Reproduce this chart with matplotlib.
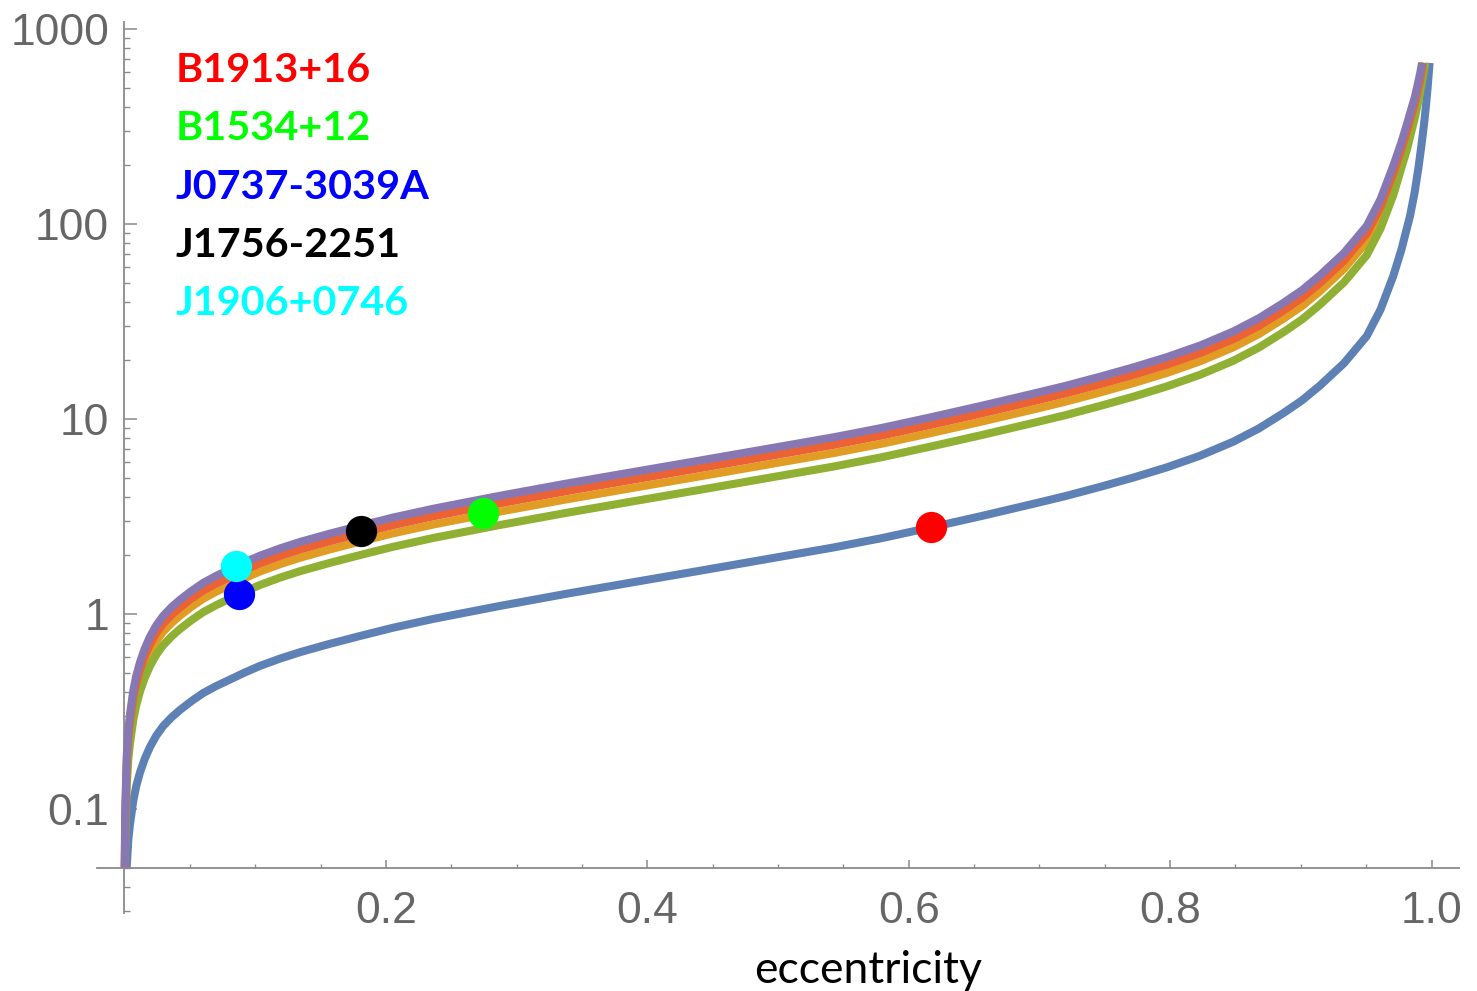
import matplotlib
matplotlib.use("Agg")
import matplotlib.pyplot as plt
from matplotlib.ticker import FixedLocator, FixedFormatter, LogLocator, NullFormatter

# ---------------- data ----------------
e_blue = [0.0017, 0.0030, 0.0042, 0.0067, 0.0090, 0.0119, 0.0155, 0.0195, 0.0245, 0.0297,
          0.036, 0.0425, 0.051, 0.0603, 0.070, 0.0807, 0.092, 0.1037, 0.119, 0.1343,
          0.157, 0.18, 0.205, 0.2363, 0.26, 0.2869, 0.3383, 0.39, 0.4403, 0.49,
          0.5423, 0.58, 0.617, 0.656, 0.6953, 0.72, 0.7464, 0.772, 0.7974, 0.823,
          0.8484, 0.868, 0.8866, 0.901, 0.9147, 0.933, 0.9504, 0.961, 0.9708, 0.977,
          0.9835, 0.987, 0.99, 0.9922, 0.9942, 0.9957, 0.997, 0.9985]
v_blue = [0.050, 0.0700, 0.0832, 0.1096, 0.1309, 0.1542, 0.1807, 0.2080, 0.2388, 0.2667,
          0.2951, 0.3221, 0.3565, 0.3936, 0.4266, 0.4613, 0.5012, 0.5420, 0.5908, 0.6372,
          0.7031, 0.7709, 0.8492, 0.9441, 1.0139, 1.0990, 1.2706, 1.4588, 1.6672, 1.9055,
          2.1928, 2.4547, 2.7797, 3.1842, 3.6728, 4.0272, 4.4875, 5.0119, 5.6494, 6.4863,
          7.656, 8.954, 10.715, 12.474, 14.859, 19.32, 26.61, 36.48, 54.33, 74.13,
          109.7, 144.5, 195.0, 251.2, 323.6, 402.7, 501.2, 670]

e_green = [0.00035, 0.0006, 0.0017, 0.0030, 0.0042, 0.0067, 0.0090, 0.0119, 0.0155, 0.0195,
           0.0245, 0.0297, 0.036, 0.0425, 0.051, 0.0603, 0.070, 0.0807, 0.092, 0.1037,
           0.119, 0.1343, 0.157, 0.18, 0.205, 0.2363, 0.26, 0.2869, 0.3383, 0.39,
           0.4403, 0.49, 0.5423, 0.58, 0.617, 0.656, 0.6953, 0.72, 0.7464, 0.772,
           0.7974, 0.823, 0.8484, 0.868, 0.8866, 0.901, 0.9147, 0.933, 0.9504, 0.961,
           0.9708, 0.977, 0.9811, 0.9874, 0.9912, 0.9952]
v_green = [0.050, 0.0696, 0.130, 0.182, 0.216, 0.285, 0.340, 0.401, 0.470, 0.541,
           0.621, 0.693, 0.767, 0.838, 0.927, 1.023, 1.109, 1.199, 1.303, 1.409,
           1.537, 1.658, 1.828, 2.004, 2.208, 2.455, 2.636, 2.858, 3.304, 3.793,
           4.335, 4.955, 5.702, 6.383, 7.228, 8.279, 9.550, 10.47, 11.67, 13.03,
           14.69, 16.87, 19.91, 23.28, 27.86, 32.43, 38.64, 50.23, 69.18, 94.84,
           141.3, 195, 240, 355, 470, 670]

e_orange = [0.00026, 0.0006, 0.0017, 0.0030, 0.0042, 0.0067, 0.0090, 0.0119, 0.0155, 0.0195,
            0.0245, 0.0297, 0.036, 0.0425, 0.051, 0.0603, 0.070, 0.0807, 0.092, 0.1037,
            0.119, 0.1343, 0.157, 0.18, 0.205, 0.2363, 0.26, 0.2869, 0.3383, 0.39,
            0.4403, 0.49, 0.5423, 0.58, 0.617, 0.656, 0.6953, 0.72, 0.7464, 0.772,
            0.7974, 0.823, 0.8484, 0.868, 0.8866, 0.901, 0.9147, 0.933, 0.9504, 0.961,
            0.9708, 0.977, 0.9811, 0.9874, 0.9912, 0.9943]
v_orange = [0.050, 0.0813, 0.152, 0.213, 0.254, 0.334, 0.399, 0.470, 0.551, 0.634,
            0.728, 0.813, 0.899, 0.982, 1.086, 1.199, 1.300, 1.406, 1.528, 1.652,
            1.801, 1.943, 2.143, 2.350, 2.588, 2.877, 3.090, 3.350, 3.873, 4.446,
            5.082, 5.808, 6.683, 7.482, 8.472, 9.705, 11.19, 12.27, 13.68, 15.28,
            17.22, 19.77, 23.33, 27.29, 32.66, 38.02, 45.29, 58.88, 81.10, 111.2,
            165.6, 221, 275, 389, 501, 670]

e_red = [0.00023, 0.0006, 0.0017, 0.0030, 0.0042, 0.0067, 0.0090, 0.0119, 0.0155, 0.0195,
         0.0245, 0.0297, 0.036, 0.0425, 0.051, 0.0603, 0.070, 0.0807, 0.092, 0.1037,
         0.119, 0.1343, 0.157, 0.18, 0.205, 0.2363, 0.26, 0.2869, 0.3383, 0.39,
         0.4403, 0.49, 0.5423, 0.58, 0.617, 0.656, 0.6953, 0.72, 0.7464, 0.772,
         0.7974, 0.823, 0.8484, 0.868, 0.8866, 0.901, 0.9147, 0.933, 0.9504, 0.961,
         0.9708, 0.977, 0.9811, 0.9874, 0.9912, 0.9935]
v_red = [0.050, 0.0899, 0.168, 0.235, 0.279, 0.368, 0.440, 0.518, 0.607, 0.698,
         0.802, 0.895, 0.991, 1.081, 1.197, 1.321, 1.432, 1.549, 1.683, 1.820,
         1.984, 2.141, 2.360, 2.588, 2.851, 3.170, 3.404, 3.690, 4.266, 4.898,
         5.598, 6.397, 7.362, 8.241, 9.333, 10.69, 12.33, 13.52, 15.07, 16.83,
         18.97, 21.78, 25.70, 30.06, 35.97, 41.88, 49.89, 64.86, 89.33, 122.5,
         182.4, 243, 299, 422, 543, 670]

e_purple = [0.0002, 0.0006, 0.0017, 0.0030, 0.0042, 0.0067, 0.0090, 0.0119, 0.0155, 0.0195,
            0.0245, 0.0297, 0.036, 0.0425, 0.051, 0.0603, 0.070, 0.0807, 0.092, 0.1037,
            0.119, 0.1343, 0.157, 0.18, 0.205, 0.2363, 0.26, 0.2869, 0.3383, 0.39,
            0.4403, 0.49, 0.5423, 0.58, 0.617, 0.656, 0.6953, 0.72, 0.7464, 0.772,
            0.7974, 0.823, 0.8484, 0.868, 0.8866, 0.901, 0.9147, 0.933, 0.9504, 0.961,
            0.9708, 0.977, 0.9811, 0.9874, 0.9912, 0.9927]
v_purple = [0.050, 0.0984, 0.184, 0.257, 0.305, 0.403, 0.481, 0.566, 0.664, 0.764,
            0.877, 0.979, 1.084, 1.183, 1.309, 1.445, 1.567, 1.694, 1.841, 1.991,
            2.170, 2.342, 2.582, 2.831, 3.119, 3.467, 3.724, 4.036, 4.667, 5.358,
            6.124, 6.998, 8.054, 9.016, 10.21, 11.70, 13.49, 14.79, 16.48, 18.41,
            20.75, 23.82, 28.12, 32.89, 39.36, 45.81, 54.58, 70.96, 97.72, 134.0,
            199.5, 263, 324, 452, 589, 670]

pulsar_names = ["B1913+16", "B1534+12", "J0737-3039A", "J1756-2251", "J1906+0746"]
pulsar_e = [0.617, 0.274, 0.088, 0.181, 0.085]
pulsar_v = [2.78, 3.28, 1.26, 2.67, 1.76]
pulsar_colors = ["#FF0000", "#00FF00", "#0000FF", "#000000", "#00FFFF"]

x_ticks = [0.2, 0.4, 0.6, 0.8, 1.0]
x_ticklabels = ["0.2", "0.4", "0.6", "0.8", "1.0"]
y_ticks = [0.1, 1, 10, 100, 1000]
y_ticklabels = ["0.1", "1", "10", "100", "1000"]

# ---------------- figure ----------------
W, H = 1477, 991
fig = plt.figure(figsize=(W / 100, H / 100), dpi=100)
ax = fig.add_axes([97 / W, 1 - 913 / H, (1459 - 97) / W, (913 - 22) / H])
ax.set_yscale("log")
ax.set_xlim(-0.0210, 1.0210)
ax.set_ylim(0.0293, 1086)
ax.patch.set_alpha(0)

curves = [
    (e_blue, v_blue, "#5E81B5"),
    (e_orange, v_orange, "#E19C24"),
    (e_green, v_green, "#8FB032"),
    (e_red, v_red, "#EB6235"),
    (e_purple, v_purple, "#8778B3"),
]
for i, (ex, vy, c) in enumerate(curves):
    ax.plot(ex, vy, color=c, lw=5.8, solid_capstyle="butt", solid_joinstyle="round",
            zorder=2 + i, clip_on=False)

for name, ex, vy, c in zip(pulsar_names, pulsar_e, pulsar_v, pulsar_colors):
    ax.plot([ex], [vy], "o", ms=22.5, color=c, mec="none", zorder=10, clip_on=False)

# axes in Mathematica style
axis_col = "#8a8a8a"
for s in ["top", "right"]:
    ax.spines[s].set_visible(False)
ax.spines["left"].set_position(("data", 0))
ax.spines["bottom"].set_position(("data", 0.05))
for s in ["left", "bottom"]:
    ax.spines[s].set_color(axis_col)
    ax.spines[s].set_linewidth(1.3)

ax.xaxis.set_major_locator(FixedLocator(x_ticks))
ax.xaxis.set_major_formatter(FixedFormatter(x_ticklabels))
ax.xaxis.set_minor_locator(FixedLocator([0.05, 0.1, 0.15, 0.25, 0.3, 0.35, 0.45, 0.5, 0.55,
                                         0.65, 0.7, 0.75, 0.85, 0.9, 0.95]))
ax.yaxis.set_major_locator(FixedLocator(y_ticks))
ax.yaxis.set_major_formatter(FixedFormatter(y_ticklabels))
ax.yaxis.set_minor_locator(LogLocator(base=10, subs=[2, 3, 4, 5, 6, 7, 8, 9], numticks=20))
ax.yaxis.set_minor_formatter(NullFormatter())

ax.tick_params(axis="x", which="major", direction="in", length=6.0, width=1.1,
               color=axis_col, pad=17, labelcolor="#666666", labelsize=32)
ax.tick_params(axis="x", which="minor", direction="in", length=3.0, width=1.0, color=axis_col)
ax.tick_params(axis="y", which="major", direction="in", length=9.5, width=1.1,
               color=axis_col, pad=11, labelcolor="#666666", labelsize=32)
ax.tick_params(axis="y", which="minor", direction="in", length=4.5, width=1.0, color=axis_col)
for lab in ax.get_xticklabels() + ax.get_yticklabels():
    lab.set_fontfamily("Liberation Sans")

# legend-like labels
for i, (name, c) in enumerate(zip(pulsar_names, pulsar_colors)):
    fig.text(176 / W, 1 - (82 + 58.3 * i) / H, name, color=c, fontfamily="Lato",
             fontweight="bold", fontsize=29.8, ha="left", va="baseline")

fig.text(868 / W, 1 - 983 / H, "eccentricity", color="black", fontfamily="Lato",
         fontsize=32, ha="center", va="baseline")

fig.savefig("out.png", dpi=100)
